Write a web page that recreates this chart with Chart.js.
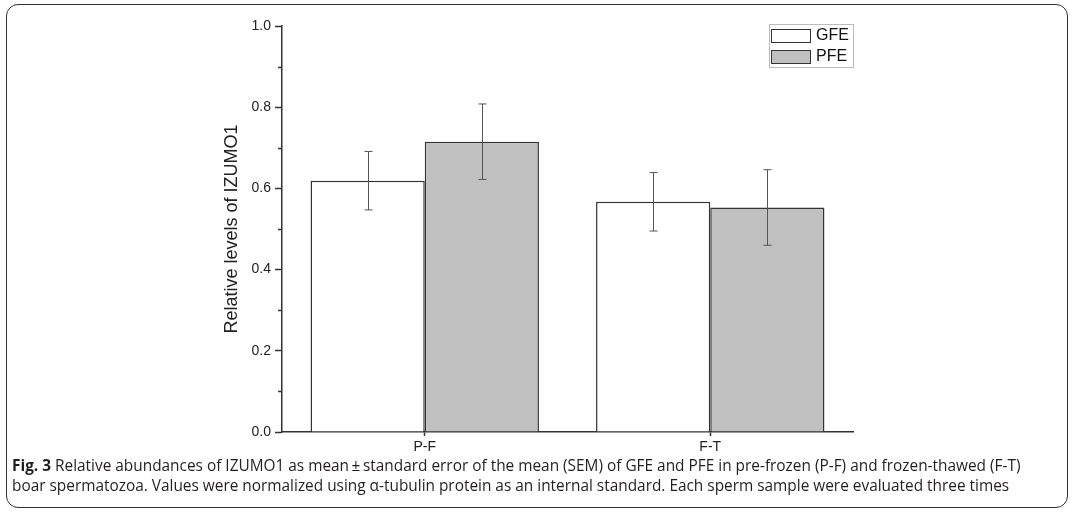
<!DOCTYPE html>
<html lang="en">
<head>
    <meta charset="UTF-8">
    <title>IZUMO1 relative levels</title>
    <script src="https://cdn.jsdelivr.net/npm/chart.js"></script>
    <style>
        body { margin: 0; background: #fff; }
        #frame {
            position: absolute; left: 6px; top: 4px; width: 1060px; height: 502px;
            border: 1.5px solid #333; border-radius: 12px;
        }
        #c { position: absolute; left: 0; top: 0; }
        #legend {
            position: absolute; left: 769px; top: 24px; width: 83px; height: 42px;
            border: 1px solid #bbb; font-family: "Liberation Sans", Arial, sans-serif;
            font-size: 16px; color: #111;
        }
        .row { position: absolute; left: 0; height: 16px; line-height: 16px; }
        .sw { position: absolute; left: 1px; top: 1px; width: 38px; height: 12px; border: 1.5px solid #333; }
        .lbl { position: absolute; left: 46px; top: -1px; }
        #caption {
            position: absolute; left: 12px; top: 456px; width: 1050px;
            font-family: "Open Sans", sans-serif; font-size: 15.4px; line-height: 20px; color: #231f20;
            white-space: nowrap;
        }
    </style>
</head>
<body>
    <div id="frame"></div>
    <canvas id="c" width="1073" height="460"></canvas>
    <div id="legend"></div>
    <div id="caption"><b>Fig. 3</b> Relative abundances of IZUMO1 as mean&#8201;±&#8201;standard error of the mean (SEM) of GFE and PFE in pre-frozen (P-F) and frozen-thawed (F-T)<br>boar spermatozoa. Values were normalized using α-tubulin protein as an internal standard. Each sperm sample were evaluated three times</div>
    <script>
        const categories = ['P-F', 'F-T'];
        const seriesNames = ['GFE', 'PFE'];
        const gfeMean = [0.619, 0.567];
        const gfeSem = [0.072, 0.072];
        const pfeMean = [0.715, 0.553];
        const pfeSem = [0.093, 0.093];
        const fills = ['#ffffff', '#c0c0c0'];

        // legend
        const legend = document.getElementById('legend');
        seriesNames.forEach((name, i) => {
            const row = document.createElement('div');
            row.className = 'row';
            row.style.top = (i === 0 ? 3 : 24) + 'px';
            row.innerHTML = `<span class="sw" style="background:${fills[i]}"></span><span class="lbl">${name}</span>`;
            legend.appendChild(row);
        });

        const errors = [gfeSem, pfeSem];

        const errorBars = {
            id: 'errorBars',
            afterDatasetsDraw(chart) {
                const ctx = chart.ctx;
                const y = chart.scales.y;
                ctx.save();
                ctx.strokeStyle = '#555';
                ctx.lineWidth = 1;
                chart.data.datasets.forEach((ds, i) => {
                    const meta = chart.getDatasetMeta(i);
                    meta.data.forEach((bar, j) => {
                        const top = y.getPixelForValue(ds.data[j] + errors[i][j]);
                        const bot = y.getPixelForValue(ds.data[j] - errors[i][j]);
                        const x = Math.round(bar.x) + 0.5;
                        ctx.beginPath();
                        ctx.moveTo(x, top); ctx.lineTo(x, bot);
                        ctx.moveTo(x - 4, top); ctx.lineTo(x + 4, top);
                        ctx.moveTo(x - 4, bot); ctx.lineTo(x + 4, bot);
                        ctx.stroke();
                    });
                });
                ctx.restore();
            }
        };

        const minorTicks = {
            id: 'minorTicks',
            afterDraw(chart) {
                const ctx = chart.ctx;
                const y = chart.scales.y;
                ctx.save();
                ctx.strokeStyle = '#333';
                ctx.lineWidth = 1.5;
                for (let v = 0.1; v < 1; v += 0.2) {
                    const py = Math.round(y.getPixelForValue(v)) + 0.5;
                    ctx.beginPath();
                    ctx.moveTo(y.right - 4, py);
                    ctx.lineTo(y.right, py);
                    ctx.stroke();
                }
                ctx.restore();
            }
        };

        new Chart(document.getElementById('c'), {
            type: 'bar',
            data: {
                labels: categories,
                datasets: [
                    { label: seriesNames[0], data: gfeMean, backgroundColor: fills[0], borderColor: '#333', borderWidth: 1.5 },
                    { label: seriesNames[1], data: pfeMean, backgroundColor: fills[1], borderColor: '#333', borderWidth: 1.5 }
                ]
            },
            options: {
                responsive: false,
                animation: false,
                devicePixelRatio: 1,
                layout: { padding: { left: 213, right: 220, top: 26, bottom: 0 } },
                datasets: { bar: { categoryPercentage: 0.8, barPercentage: 1.0 } },
                plugins: { legend: { display: false }, tooltip: { enabled: false } },
                scales: {
                    x: {
                        afterFit(s) { s.height = 28; },
                        grid: { display: true, drawOnChartArea: false, offset: false, tickLength: 4, tickColor: '#333', tickWidth: 1.5 },
                        border: { display: true, color: '#333', width: 1.5 },
                        ticks: { color: '#222', padding: 3, font: { family: 'Liberation Sans', size: 14 } }
                    },
                    y: {
                        min: 0, max: 1,
                        afterFit(s) { s.width = 69; },
                        grid: { display: true, drawOnChartArea: false, tickLength: 7, tickColor: '#333', tickWidth: 1.5 },
                        border: { display: true, color: '#333', width: 1.5 },
                        ticks: {
                            stepSize: 0.2, padding: 4, color: '#222',
                            font: { family: 'Liberation Sans', size: 14 },
                            callback: v => v.toFixed(1)
                        },
                        title: {
                            display: true, text: 'Relative levels of IZUMO1', color: '#222',
                            font: { family: 'Liberation Sans', size: 18 },
                            padding: { top: 8, bottom: 0 }
                        }
                    }
                }
            },
            plugins: [errorBars, minorTicks]
        });
    </script>
</body>
</html>
